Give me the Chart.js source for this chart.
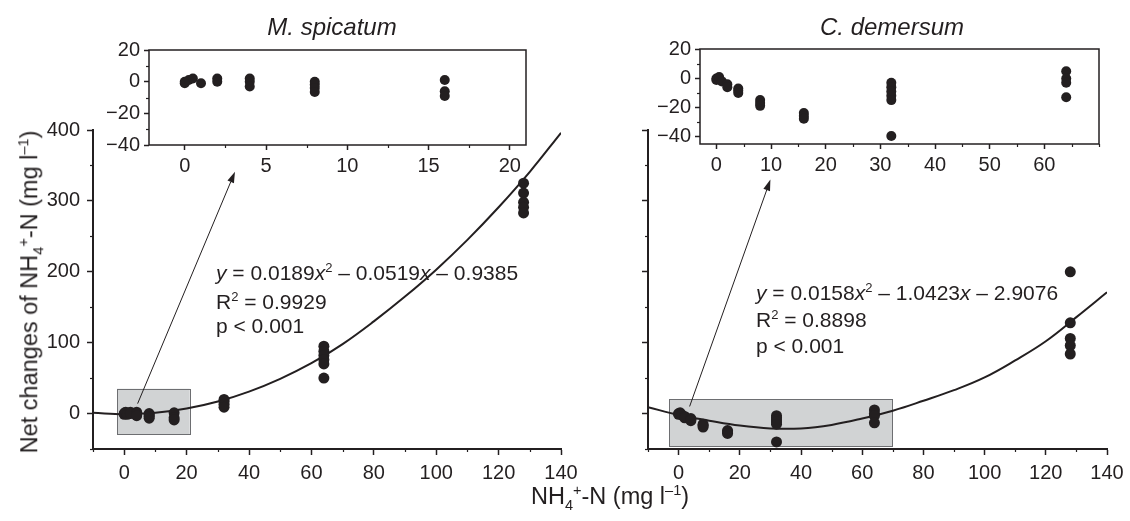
<!DOCTYPE html>
<html>
<head>
<meta charset="utf-8">
<script src="https://cdn.jsdelivr.net/npm/chart.js@4.4.1/dist/chart.umd.min.js"></script>
<style>
  body { margin: 0; background: #fff; }
  #wrap { position: relative; width: 1130px; height: 521px; overflow: hidden; font-family: "Liberation Sans", Arial, Helvetica, sans-serif; color: #231f20; }
  canvas { position: absolute; top: 0; }
  .t { position: absolute; white-space: nowrap; line-height: 1; }
  .eq { font-size: 21px; transform: translateY(-50%); }
  .mid { transform: translate(-50%, -50%); }
  .title { font-size: 24px; font-style: italic; }
  .axt { font-size: 23.5px; }
  sup, sub { font-size: 0.62em; line-height: 0; }
</style>
</head>
<body>
<div id="wrap">
  <canvas id="spiMain" width="600" height="521" style="left:0"></canvas>
  <canvas id="demMain" width="530" height="521" style="left:600px"></canvas>
  <canvas id="spiInset" width="440" height="180" style="left:100px"></canvas>
  <canvas id="demInset" width="490" height="180" style="left:640px"></canvas>

  <div class="t title mid" style="left:332px;top:27px">M. spicatum</div>
  <div class="t title mid" style="left:892px;top:27px">C. demersum</div>

  <div class="t eq" style="left:216px;top:272px"><i>y</i> = 0.0189<i>x</i><sup>2</sup> – 0.0519<i>x</i> – 0.9385</div>
  <div class="t eq" style="left:216px;top:301px">R<sup>2</sup> = 0.9929</div>
  <div class="t eq" style="left:216px;top:325px">p &lt; 0.001</div>

  <div class="t eq" style="left:756px;top:292px"><i>y</i> = 0.0158<i>x</i><sup>2</sup> – 1.0423<i>x</i> – 2.9076</div>
  <div class="t eq" style="left:756px;top:319px">R<sup>2</sup> = 0.8898</div>
  <div class="t eq" style="left:756px;top:345px">p &lt; 0.001</div>

  <div class="t axt mid" style="left:610px;top:497px">NH<sub>4</sub><sup>+</sup>-N (mg l<sup>–1</sup>)</div>
  <div class="t axt" style="left:30px;top:292px;transform:translate(-50%,-50%) rotate(-90deg)">Net changes of NH<sub>4</sub><sup>+</sup>-N (mg l<sup>–1</sup>)</div>
</div>

<script>
const INK = '#231f20';
const FONT = '"Liberation Sans", Arial, Helvetica, sans-serif';

// M. spicatum — initial NH4+-N (mg l-1) vs net change (mg l-1)
const spiDose = [0, 0, 0.25, 0.5, 1, 2, 2, 4, 4, 4, 8, 8, 8, 8, 16, 16, 16, 32, 32, 32, 32, 64, 64, 64, 64, 64, 64, 128, 128, 128, 128, 128];
const spiNet = [0, -1, 1, 2, -1, 2, 0, 2, 0, -3, 0, -2, -4, -6.5, 1, -6, -9, 20, 17, 13, 9, 95, 88, 82, 76, 70, 50, 325, 311, 298, 291, 283];

// C. demersum
const demDose = [0, 0, 0.5, 1, 2, 2, 4, 4, 4, 8, 8, 8, 16, 16, 16, 32, 32, 32, 32, 32, 32, 64, 64, 64, 64, 128, 128, 128, 128, 128];
const demNet = [0, -1, 1, -2, -4, -6, -7, -8.5, -10, -15, -17, -19, -24, -26, -28, -3, -6, -9, -12, -15, -40, 5, 0, -3, -13, 200, 128, 106, 96, 84];

// fitted quadratic curves
const fitX = [-10, 0, 10, 20, 30, 40, 50, 60, 70, 80, 90, 100, 110, 120, 130, 140];
const spiFit = [1, -1, 1, 7, 17, 31, 49, 71, 98, 130, 165, 203, 245, 291, 341, 396];
const demFit = [9, -2, -10, -17, -21, -21, -16, -7, 4, 18, 33, 51, 75, 102, 136, 171];

// tick labels
const mainXTicks = [0, 20, 40, 60, 80, 100, 120, 140];
const mainYTicks = [0, 100, 200, 300, 400];
const spiInsetXTicks = [0, 5, 10, 15, 20];
const demInsetXTicks = [0, 10, 20, 30, 40, 50, 60];
const insetYTicks = [-40, -20, 0, 20];

const ticksFrom = (arr) => (s) => { s.ticks = arr.map(v => ({ value: v })); };
const minus = (v) => String(v).replace('-', '\u2212');
const pts = (xs, ys) => xs.map((x, i) => ({ x, y: ys[i] }));

// short unlabeled ticks between the major ones
const minorTicks = {
  id: 'minorTicks',
  afterDraw(chart, args, o) {
    const { ctx } = chart;
    ctx.save();
    ctx.strokeStyle = INK;
    ctx.lineWidth = 1.2;
    for (const id of ['x', 'y']) {
      const s = chart.scales[id], step = o[id];
      if (!step) continue;
      const majors = s.ticks.map(t => t.value);
      for (let v = Math.ceil(s.min / step) * step; v <= s.max + 1e-9; v += step) {
        if (majors.some(m => Math.abs(m - v) < 1e-6)) continue;
        const p = Math.round(s.getPixelForValue(v)) + 0.5;
        ctx.beginPath();
        if (s.isHorizontal()) { ctx.moveTo(p, s.top); ctx.lineTo(p, s.top + o.len); }
        else { ctx.moveTo(s.right, p); ctx.lineTo(s.right - o.len, p); }
        ctx.stroke();
      }
    }
    ctx.restore();
  },
};

// grey zoom box under the data, arrow pointing at the inset
const zoomBox = {
  id: 'zoomBox',
  beforeDatasetsDraw(chart, args, o) {
    const { ctx, scales: { x, y } } = chart;
    const [x0, x1, y0, y1] = o.box;
    const l = x.getPixelForValue(x0), r = x.getPixelForValue(x1);
    const t = y.getPixelForValue(y1), b = y.getPixelForValue(y0);
    ctx.save();
    ctx.fillStyle = '#d1d3d4';
    ctx.fillRect(l, t, r - l, b - t);
    ctx.strokeStyle = '#6d6e71';
    ctx.lineWidth = 1;
    ctx.strokeRect(Math.round(l) + 0.5, Math.round(t) + 0.5, Math.round(r - l), Math.round(b - t));
    ctx.restore();
  },
  afterDatasetsDraw(chart, args, o) {
    const { ctx, scales: { x, y } } = chart;
    const [ax0, ay0, ax1, ay1] = o.arrow;
    const x0 = x.getPixelForValue(ax0), y0 = y.getPixelForValue(ay0);
    const x1 = x.getPixelForValue(ax1), y1 = y.getPixelForValue(ay1);
    const ang = Math.atan2(y1 - y0, x1 - x0), L = 11, W = 3.5;
    const bx = x1 - L * Math.cos(ang), by = y1 - L * Math.sin(ang);
    ctx.save();
    ctx.strokeStyle = INK;
    ctx.fillStyle = INK;
    ctx.lineWidth = 1;
    ctx.beginPath(); ctx.moveTo(x0, y0); ctx.lineTo(bx, by); ctx.stroke();
    ctx.beginPath();
    ctx.moveTo(x1, y1);
    ctx.lineTo(bx + W * Math.sin(ang), by - W * Math.cos(ang));
    ctx.lineTo(bx - W * Math.sin(ang), by + W * Math.cos(ang));
    ctx.closePath(); ctx.fill();
    ctx.restore();
  },
};

const frame = {
  id: 'frame',
  afterDraw(chart) {
    const { ctx, chartArea: a } = chart;
    ctx.save();
    ctx.strokeStyle = INK;
    ctx.lineWidth = 1.5;
    ctx.strokeRect(a.left, a.top, a.right - a.left, a.bottom - a.top);
    ctx.restore();
  },
};

function axis(extra) {
  return Object.assign({
    type: 'linear',
    grid: { drawOnChartArea: false, drawTicks: true, tickLength: 6, tickWidth: 1.5, tickColor: INK },
    border: { color: INK, width: 2 },
  }, extra);
}

function tickStyle(padding, display = true) {
  return { display, color: INK, padding, maxRotation: 0, font: { family: FONT, size: 20 }, callback: minus };
}

function mainConfig(dose, net, fit, p) {
  return {
    type: 'scatter',
    data: {
      datasets: [
        { data: pts(dose, net), pointRadius: 5.5, pointBackgroundColor: INK, pointBorderWidth: 0 },
        { data: pts(fitX, fit), showLine: true, pointRadius: 0, borderColor: INK, borderWidth: 2, tension: 0.4 },
      ],
    },
    options: {
      responsive: false, animation: false, events: [],
      layout: { padding: { top: 130, right: p.padRight, left: 0, bottom: 0 } },
      plugins: {
        legend: { display: false }, tooltip: { enabled: false },
        minorTicks: { x: 10, y: 50, len: 3 },
        zoomBox: { box: p.box, arrow: p.arrow },
      },
      scales: {
        x: axis({ min: -10, max: 140, afterBuildTicks: ticksFrom(mainXTicks), afterFit: s => { s.height = 72; }, ticks: tickStyle(6) }),
        y: axis({ min: -50, max: 400, afterBuildTicks: ticksFrom(mainYTicks), afterFit: s => { s.width = p.yWidth; }, ticks: tickStyle(7, p.yLabels) }),
      },
    },
    plugins: [minorTicks, zoomBox],
  };
}

function insetConfig(dose, net, p) {
  const keep = dose.map((d, i) => i).filter(i => dose[i] <= p.xMax);
  return {
    type: 'scatter',
    data: {
      datasets: [{ data: keep.map(i => ({ x: dose[i], y: net[i] })), pointRadius: 5, pointBackgroundColor: INK, pointBorderWidth: 0 }],
    },
    options: {
      responsive: false, animation: false, events: [],
      layout: { padding: { top: p.top, right: p.padRight, left: 0, bottom: 0 } },
      plugins: { legend: { display: false }, tooltip: { enabled: false }, minorTicks: { x: p.xMinor, y: 10, len: 3 } },
      scales: {
        x: axis({ min: p.xMin, max: p.xMax, border: { display: false }, grid: { drawOnChartArea: false, tickLength: 5, tickWidth: 1.5, tickColor: INK }, afterBuildTicks: ticksFrom(p.xTicks), afterFit: s => { s.height = p.xH; }, ticks: tickStyle(4) }),
        y: axis({ min: p.yMin, max: p.yMax, border: { display: false }, grid: { drawOnChartArea: false, tickLength: 5, tickWidth: 1.5, tickColor: INK }, afterBuildTicks: ticksFrom(insetYTicks), afterFit: s => { s.width = p.yW; }, ticks: tickStyle(4) }),
      },
    },
    plugins: [minorTicks, frame],
  };
}

new Chart(document.getElementById('spiMain'), mainConfig(spiDose, spiNet, spiFit, {
  padRight: 39, yWidth: 93, yLabels: true,
  box: [-2.3, 21, -29, 35], arrow: [4.3, 14, 35.5, 341],
}));
new Chart(document.getElementById('demMain'), mainConfig(demDose, demNet, demFit, {
  padRight: 23, yWidth: 48, yLabels: false,
  box: [-3, 70, -47, 20], arrow: [3.6, 10, 30, 330],
}));
new Chart(document.getElementById('spiInset'), insetConfig(spiDose, spiNet, {
  top: 50, padRight: 14, xH: 35, yW: 49,
  xMin: -2.2, xMax: 21, yMin: -40, yMax: 20, xTicks: spiInsetXTicks, xMinor: 2.5,
}));
new Chart(document.getElementById('demInset'), insetConfig(demDose, demNet, {
  top: 49, padRight: 31, xH: 36, yW: 60,
  xMin: -3, xMax: 70, yMin: -45.5, yMax: 20.5, xTicks: demInsetXTicks, xMinor: 5,
}));
</script>
</body>
</html>
